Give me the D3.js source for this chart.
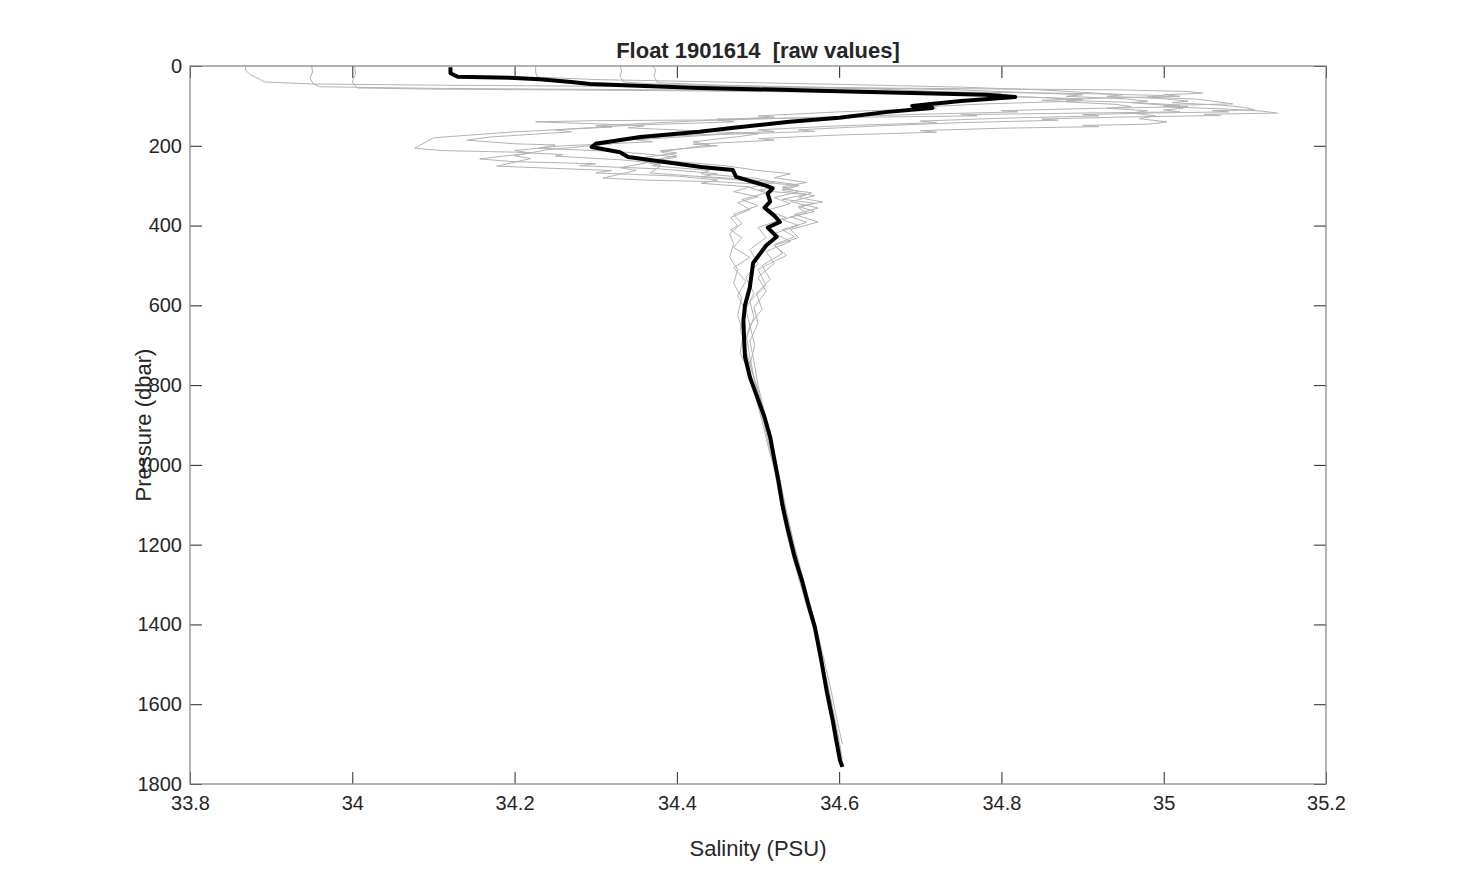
<!DOCTYPE html>
<html>
<head>
<meta charset="utf-8">
<script src="https://cdn.jsdelivr.net/npm/d3@7"></script>
<style>
  body { margin: 0; background: #fff; }
  svg text { font-family: "Liberation Sans", Arial, sans-serif; fill: #262626; white-space: pre; }
</style>
</head>
<body>
<div id="chart"></div>
<script>
// Data: [salinity, pressure] pairs
const X_TICKS = [33.8, 34, 34.2, 34.4, 34.6, 34.8, 35, 35.2];
const Y_TICKS = [0, 200, 400, 600, 800, 1000, 1200, 1400, 1600, 1800];

// current profile (thick black)
const profileMain = [
  [34.121,3],[34.121,18],[34.13,27],[34.2,30],[34.231,33],[34.27,40],[34.293,45],[34.428,55],
  [34.6,63],[34.78,72],[34.817,78],[34.75,88],[34.71,96],[34.69,100],[34.715,105],[34.66,115],
  [34.6,130],[34.539,140],[34.47,155],[34.428,165],[34.355,178],[34.3,195],[34.295,203],[34.33,216],
  [34.34,228],[34.43,253],[34.469,261],[34.473,278],[34.51,300],[34.518,307],[34.512,320],[34.515,340],
  [34.508,355],[34.52,375],[34.527,391],[34.512,405],[34.523,428],[34.51,450],[34.494,494],[34.49,554],
  [34.484,600],[34.482,637],[34.483,690],[34.484,729],[34.49,780],[34.499,830],[34.508,880],[34.515,930],
  [34.52,985],[34.525,1038],[34.53,1100],[34.536,1155],[34.545,1230],[34.555,1296],[34.562,1350],
  [34.57,1406],[34.578,1490],[34.585,1571],[34.592,1640],[34.597,1697],[34.601,1740],[34.604,1757]
];

// earlier profiles (thin grey)
const profileA = [
  [33.868,0],[33.869,12],[33.875,22],[33.892,40],[33.95,45],[34.1,48],[34.4,52],[34.7,56],[34.95,60],
  [35.03,64],[35.048,68],[35.0,72],[35.02,76],[34.93,80],[34.85,86],[34.88,89],[34.78,95],[34.7,103],
  [34.72,106],[34.6,115],[34.5,125],[34.52,128],[34.42,138],[34.3,150],[34.32,153],[34.2,165],[34.1,180],
  [34.077,206],[34.11,212],[34.2,216],[34.26,222],[34.25,226],[34.33,235],[34.38,245],[34.37,250],
  [34.44,262],[34.43,270],[34.5,282],[34.52,292],[34.49,305],[34.51,318],[34.48,335],[34.50,350],
  [34.47,372],[34.48,395],[34.465,420],[34.47,445],[34.465,479],[34.475,510],[34.47,545],[34.48,580],
  [34.475,625],[34.482,670],[34.478,720],[34.49,770],[34.497,830],[34.505,890],[34.512,950],[34.52,1010],
  [34.526,1075],[34.532,1140],[34.54,1210],[34.551,1290],[34.561,1360],[34.57,1420],[34.578,1490],
  [34.587,1570],[34.594,1640],[34.6,1700],[34.604,1738]
];
const profileB = [
  [33.95,0],[33.951,15],[33.948,30],[33.952,45],[33.96,52],[34.1,56],[34.4,60],[34.7,64],[34.9,69],
  [35.0,74],[34.98,78],[35.04,83],[35.06,88],[35.085,95],[35.0,99],[35.03,102],[34.92,106],[34.8,112],
  [34.82,115],[34.7,121],[34.55,130],[34.45,136],[34.47,140],[34.35,148],[34.25,160],[34.27,165],
  [34.17,178],[34.141,186],[34.2,195],[34.25,198],[34.23,206],[34.33,215],[34.4,228],[34.38,236],
  [34.46,250],[34.5,262],[34.54,270],[34.52,280],[34.56,292],[34.53,303],[34.55,315],[34.52,330],
  [34.54,345],[34.51,362],[34.535,380],[34.5,405],[34.51,430],[34.49,460],[34.5,495],[34.485,530],
  [34.495,570],[34.485,610],[34.49,650],[34.483,700],[34.492,760],[34.5,820],[34.508,880],[34.514,940],
  [34.522,1000],[34.528,1060],[34.533,1120],[34.541,1190],[34.55,1260],[34.558,1320],[34.566,1390],
  [34.574,1460],[34.583,1540],[34.59,1610],[34.598,1680]
];
const profileC = [
  [34.003,0],[34.004,20],[34.0,40],[34.006,55],[34.1,58],[34.4,62],[34.6,66],[34.75,72],[34.8,76],
  [34.9,82],[34.88,86],[34.97,92],[35.02,98],[35.0,102],[35.08,108],[35.12,113],[35.14,118],[35.05,121],
  [35.07,124],[34.95,128],[34.85,133],[34.87,136],[34.75,142],[34.65,150],[34.55,160],[34.57,164],
  [34.45,172],[34.35,185],[34.37,190],[34.26,200],[34.2,212],[34.22,218],[34.157,233],[34.2,240],
  [34.3,245],[34.28,250],[34.38,258],[34.45,270],[34.43,278],[34.5,290],[34.55,300],[34.53,312],
  [34.57,325],[34.54,340],[34.574,356],[34.545,372],[34.574,391],[34.54,410],[34.55,430],[34.52,450],
  [34.535,475],[34.5,510],[34.51,550],[34.49,590],[34.495,630],[34.486,680],[34.49,730],[34.496,790],
  [34.503,850],[34.51,910],[34.518,970],[34.525,1030],[34.531,1095],[34.538,1165],[34.547,1235],
  [34.556,1305],[34.565,1375],[34.573,1445],[34.582,1520],[34.59,1600],[34.597,1670],[34.603,1725]
];
const profileD = [
  [34.226,0],[34.226,15],[34.228,28],[34.3,34],[34.45,40],[34.6,46],[34.75,53],[34.85,60],[34.9,66],
  [34.95,72],[34.93,76],[35.0,82],[35.03,88],[35.01,92],[35.07,98],[35.1,104],[35.112,110],[35.06,112],
  [35.08,115],[34.98,118],[34.9,122],[34.92,125],[34.8,131],[34.7,138],[34.72,142],[34.6,150],[34.5,160],
  [34.52,164],[34.4,175],[34.3,190],[34.32,195],[34.24,210],[34.2,225],[34.22,232],[34.178,251],
  [34.24,256],[34.32,262],[34.3,268],[34.4,276],[34.45,286],[34.43,294],[34.49,303],[34.47,315],
  [34.5,328],[34.475,342],[34.49,360],[34.466,380],[34.475,400],[34.466,411],[34.48,430],[34.47,455],
  [34.49,480],[34.47,505],[34.485,540],[34.475,575],[34.485,615],[34.478,660],[34.485,710],[34.49,765],
  [34.498,825],[34.506,885],[34.513,945],[34.52,1005],[34.527,1068],[34.534,1135],[34.542,1205],
  [34.552,1280],[34.562,1350],[34.571,1425],[34.58,1500],[34.589,1580],[34.596,1655],[34.602,1715]
];
const profileE = [
  [34.33,0],[34.332,12],[34.33,25],[34.334,40],[34.38,46],[34.5,52],[34.65,58],[34.72,64],[34.8,70],
  [34.78,74],[34.86,80],[34.9,86],[34.88,90],[34.94,96],[34.96,102],[34.93,106],[34.98,112],[34.96,118],
  [34.99,125],[34.97,132],[35.004,140],[34.98,146],[34.9,149],[34.92,152],[34.8,156],[34.7,162],
  [34.72,166],[34.6,173],[34.5,182],[34.52,186],[34.42,196],[34.45,200],[34.38,212],[34.4,218],
  [34.35,232],[34.37,240],[34.33,255],[34.35,262],[34.309,281],[34.36,286],[34.45,290],[34.5,296],
  [34.52,303],[34.5,312],[34.56,322],[34.53,334],[34.57,344],[34.55,355],[34.56,368],[34.53,385],
  [34.55,400],[34.52,420],[34.54,440],[34.51,465],[34.52,495],[34.5,530],[34.51,565],[34.495,605],
  [34.5,645],[34.49,690],[34.495,740],[34.5,800],[34.507,860],[34.514,920],[34.521,980],[34.527,1045],
  [34.534,1110],[34.542,1180],[34.55,1250],[34.56,1320],[34.569,1395],[34.577,1465],[34.585,1545],
  [34.593,1620],[34.6,1690]
];
const profileF = [
  [34.37,0],[34.374,10],[34.372,25],[34.376,42],[34.45,48],[34.6,54],[34.75,60],[34.82,66],[34.9,72],
  [34.88,76],[34.95,82],[34.98,88],[34.96,92],[35.0,98],[35.024,106],[35.0,110],[35.02,115],[34.9,118],
  [34.75,122],[34.77,125],[34.6,129],[34.45,133],[34.47,135],[34.3,137],[34.226,140],[34.3,145],
  [34.36,150],[34.34,155],[34.42,162],[34.5,170],[34.48,176],[34.42,190],[34.44,198],[34.38,215],
  [34.4,225],[34.36,240],[34.38,250],[34.367,268],[34.42,276],[34.47,282],[34.52,290],[34.55,298],
  [34.53,308],[34.566,318],[34.55,330],[34.58,341],[34.55,352],[34.57,365],[34.54,378],[34.56,392],
  [34.53,410],[34.545,428],[34.52,448],[34.53,470],[34.505,500],[34.515,535],[34.498,570],[34.505,610],
  [34.49,650],[34.496,700],[34.49,750],[34.5,810],[34.507,870],[34.515,930],[34.522,990],[34.529,1055],
  [34.536,1125],[34.544,1195],[34.553,1265],[34.563,1340],[34.572,1410],[34.581,1485],[34.59,1565],
  [34.598,1645],[34.604,1700]
];
const greyProfiles = [profileA, profileB, profileC, profileD, profileE, profileF];

// Layout
const W = 1465, H = 882;
const plot = { left: 190, right: 1326, top: 66, bottom: 784 };

const svg = d3.select("#chart").append("svg")
  .attr("width", W).attr("height", H);

const x = d3.scaleLinear().domain([33.8, 35.2]).range([plot.left, plot.right]);
const y = d3.scaleLinear().domain([0, 1800]).range([plot.top, plot.bottom]);

svg.append("clipPath").attr("id", "clip")
  .append("rect")
  .attr("x", plot.left).attr("y", plot.top)
  .attr("width", plot.right - plot.left).attr("height", plot.bottom - plot.top);

const line = d3.line().x(d => x(d[0])).y(d => y(d[1]));

const lines = svg.append("g").attr("clip-path", "url(#clip)");

lines.selectAll(".grey")
  .data(greyProfiles)
  .enter().append("path")
  .attr("class", "grey")
  .attr("d", line)
  .attr("fill", "none")
  .attr("stroke", "#b3b3b3")
  .attr("stroke-width", 1);

lines.append("path")
  .attr("d", line(profileMain))
  .attr("fill", "none")
  .attr("stroke", "#000")
  .attr("stroke-width", 4)
  .attr("stroke-linejoin", "round");

// Axes (MATLAB style: ticks inside, on all four sides)
const fmt = d => String(d);
const tickLen = 12;

function styleAxis(g) {
  g.select(".domain").remove();
  g.selectAll(".tick line").attr("stroke", "#262626");
  g.selectAll(".tick text")
    .style("font-size", "20px")
    .attr("fill", "#262626");
}

svg.append("g")
  .attr("transform", `translate(0,${plot.bottom})`)
  .call(d3.axisBottom(x).tickValues(X_TICKS).tickFormat(fmt).tickSize(-tickLen).tickPadding(12))
  .call(styleAxis);

svg.append("g")
  .attr("transform", `translate(0,${plot.top})`)
  .call(d3.axisTop(x).tickValues(X_TICKS).tickFormat("").tickSize(-tickLen))
  .call(styleAxis);

svg.append("g")
  .attr("transform", `translate(${plot.left},0)`)
  .call(d3.axisLeft(y).tickValues(Y_TICKS).tickFormat(fmt).tickSize(-tickLen).tickPadding(8))
  .call(styleAxis);

svg.append("g")
  .attr("transform", `translate(${plot.right},0)`)
  .call(d3.axisRight(y).tickValues(Y_TICKS).tickFormat("").tickSize(-tickLen))
  .call(styleAxis);

// box
svg.append("rect")
  .attr("x", plot.left).attr("y", plot.top)
  .attr("width", plot.right - plot.left).attr("height", plot.bottom - plot.top)
  .attr("fill", "none")
  .attr("stroke", "#8a8a8a")
  .attr("stroke-width", 1.3);

// Title and labels
const cx = (plot.left + plot.right) / 2;
svg.append("text")
  .attr("x", cx).attr("y", 58)
  .attr("text-anchor", "middle")
  .style("font-size", "22px")
  .style("font-weight", "bold")
  .text("Float 1901614  [raw values]");

svg.append("text")
  .attr("x", cx).attr("y", 856)
  .attr("text-anchor", "middle")
  .style("font-size", "22px")
  .text("Salinity (PSU)");

svg.append("text")
  .attr("transform", `translate(151,${(plot.top + plot.bottom) / 2}) rotate(-90)`)
  .attr("text-anchor", "middle")
  .style("font-size", "22px")
  .text("Pressure (dbar)");
</script>
</body>
</html>
